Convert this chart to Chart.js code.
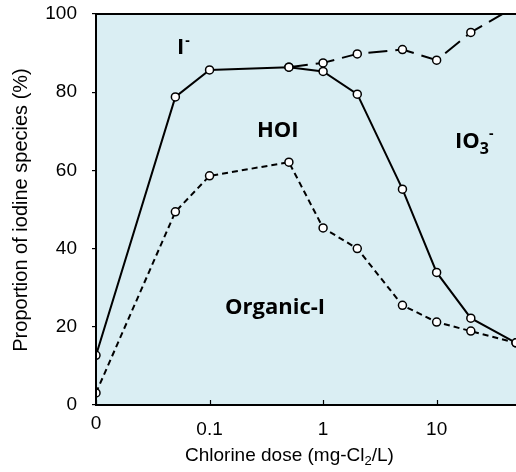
<!DOCTYPE html>
<html>
<head>
<meta charset="utf-8">
<script src="https://cdn.jsdelivr.net/npm/chart.js@4.4.1/dist/chart.umd.min.js"></script>
<style>
  body { margin: 0; background: #fff; }
  #wrap { width: 516px; height: 472px; position: relative; }
</style>
</head>
<body>
<div id="wrap"><canvas id="myChart"></canvas></div>
<script>
// chlorine doses (0 is plotted at 0.01 on the log axis)
const doses = [0.01, 0.05, 0.1, 0.5, 1, 2, 5, 10, 20, 50];
const hoiLine = [12.7, 78.8, 85.7, 86.4, 85.3, 79.5, 55.2, 33.9, 22.2, 15.9];
const organicLine = [3.1, 49.4, 58.6, 62.1, 45.3, 40.0, 25.5, 21.2, 18.9, 15.9];
const iodideDoses = [0.5, 1, 2, 5, 10, 20, 50];
const iodideLine = [86.4, 87.5, 89.8, 90.9, 88.2, 95.3, 102];
const xTicks = [0.01, 0.1, 1, 10];
const xTickLabels = ['0', '0.1', '1', '10'];

const AXIS_FONT = '"Liberation Sans", Arial, sans-serif';
const LABEL_FONT = '"Open Sans", sans-serif';

function toPoints(xs, ys) {
    return xs.map((x, i) => ({ x: x, y: ys[i] }));
}

// draw text pieces one after another (for sub/superscripts)
function drawPieces(ctx, pieces, x, y) {
    let cx = x;
    pieces.forEach(p => {
        ctx.font = p.font;
        ctx.fillText(p.t, cx, y + (p.dy || 0));
        cx += ctx.measureText(p.t).width + (p.gap || 0);
    });
}

const framePlugin = {
    id: 'frame',
    beforeDraw(chart) {
        const { ctx, chartArea: a } = chart;
        ctx.save();
        ctx.fillStyle = '#daeef3';
        ctx.fillRect(a.left, a.top, a.right - a.left, a.bottom - a.top);
        ctx.restore();
    },
    afterDatasetsDraw(chart) {
        const { ctx, chartArea: a } = chart;
        const xs = chart.scales.x;
        ctx.save();
        ctx.strokeStyle = '#000';
        ctx.lineWidth = 2;
        ctx.beginPath();
        ctx.moveTo(a.right + 2, a.top);
        ctx.lineTo(a.left, a.top);
        ctx.lineTo(a.left, a.bottom);
        ctx.lineTo(a.right + 2, a.bottom);
        ctx.stroke();

        // x tick marks point inward
        ctx.lineWidth = 1.2;
        xTicks.forEach(v => {
            const px = Math.round(xs.getPixelForValue(v)) + 0.5;
            ctx.beginPath();
            ctx.moveTo(px, a.bottom);
            ctx.lineTo(px, a.bottom - 5);
            ctx.stroke();
        });

        ctx.fillStyle = '#000';
        ctx.font = '19px ' + AXIS_FONT;
        ctx.textAlign = 'center';
        ctx.textBaseline = 'middle';
        xTicks.forEach((v, i) => {
            const px = xs.getPixelForValue(v);
            const py = i === 0 ? a.bottom + 19 : a.bottom + 25;
            ctx.fillText(xTickLabels[i], px, py);
        });

        // axis titles
        ctx.textAlign = 'left';
        ctx.textBaseline = 'alphabetic';
        drawPieces(ctx, [
            { t: 'Chlorine dose (mg-Cl', font: '19px ' + AXIS_FONT },
            { t: '2', font: '13px ' + AXIS_FONT, dy: 4 },
            { t: '/L)', font: '19px ' + AXIS_FONT }
        ], 185, 461);

        ctx.save();
        ctx.translate(27, 210);
        ctx.rotate(-Math.PI / 2);
        ctx.textAlign = 'center';
        ctx.font = '20px ' + AXIS_FONT;
        ctx.fillText('Proportion of iodine species (%)', 0, 0);
        ctx.restore();

        // region labels
        const big = 'bold 22px ' + LABEL_FONT;
        const small = 'bold 14px ' + LABEL_FONT;
        drawPieces(ctx, [
            { t: 'I', font: big, gap: 1 },
            { t: '-', font: small, dy: -9 }
        ], 177, 54);
        drawPieces(ctx, [{ t: 'HOI', font: big }], 257, 137);
        drawPieces(ctx, [
            { t: 'IO', font: big },
            { t: '3', font: 'bold 16px ' + LABEL_FONT, dy: 6 },
            { t: '-', font: small, dy: -10 }
        ], 455, 148);
        drawPieces(ctx, [{ t: 'Organic-I', font: big }], 225, 314);
        ctx.restore();
    }
};

const pointStyle = {
    pointRadius: 4,
    pointBorderWidth: 1.5,
    pointBackgroundColor: '#fff',
    pointBorderColor: '#000',
    borderColor: '#000',
    borderWidth: 2,
    fill: false,
    tension: 0
};

const ctx = document.getElementById('myChart').getContext('2d');
const myChart = new Chart(ctx, {
    type: 'line',
    data: {
        datasets: [
            Object.assign({ label: 'HOI', data: toPoints(doses, hoiLine) }, pointStyle),
            Object.assign({ label: 'Organic-I', data: toPoints(doses, organicLine), borderDash: [6, 4] }, pointStyle),
            Object.assign({ label: 'I-', data: toPoints(iodideDoses, iodideLine), borderDash: [19, 8] }, pointStyle)
        ]
    },
    options: {
        responsive: true,
        maintainAspectRatio: false,
        animation: false,
        layout: { autoPadding: false, padding: { top: 14, right: 0, left: 0, bottom: 0 } },
        plugins: {
            legend: { display: false },
            tooltip: { enabled: false }
        },
        scales: {
            x: {
                type: 'logarithmic',
                min: 0.01,
                max: 50,
                afterBuildTicks: scale => {
                    scale.ticks = xTicks.map(v => ({ value: v }));
                },
                afterFit: scale => { scale.height = 67; },
                ticks: { display: false },
                grid: { display: false },
                border: { display: false }
            },
            y: {
                min: 0,
                max: 100,
                afterFit: scale => {
                    scale.width = 96;
                    scale.paddingTop = 0;
                    scale.paddingBottom = 0;
                },
                ticks: {
                    stepSize: 20,
                    padding: 15,
                    color: '#000',
                    font: { family: AXIS_FONT, size: 19 }
                },
                grid: {
                    drawOnChartArea: false,
                    drawTicks: true,
                    tickLength: 4,
                    color: '#000',
                    lineWidth: 1.2
                },
                border: { display: false }
            }
        }
    },
    plugins: [framePlugin]
});
</script>
</body>
</html>
